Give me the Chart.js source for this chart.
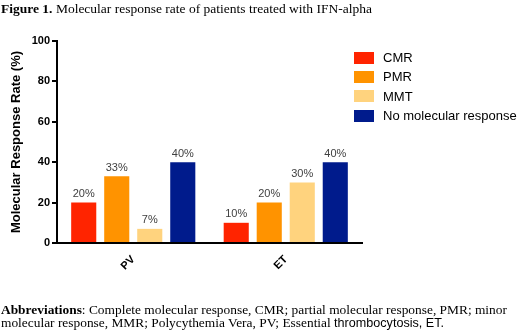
<!DOCTYPE html>
<html>
<head>
<meta charset="utf-8">
<script src="https://cdn.jsdelivr.net/npm/chart.js@4"></script>
<style>
  body { margin: 0; width: 520px; height: 334px; overflow: hidden; background: #fff; position: relative; }
  #grafico { position: absolute; left: 0; top: 0; }
  .titulo { position: absolute; left: 1px; top: 1px; font: 13.5px "Liberation Serif", "Times New Roman", serif; color: #000; white-space: nowrap; }
  .rodape { position: absolute; left: 1px; top: 303px; font: 13.4px "Liberation Serif", "Times New Roman", serif; line-height: 13px; color: #000; white-space: nowrap; }
  .sans { font-family: "Liberation Sans", Arial, sans-serif; font-size: 12.6px; }
  #legenda { position: absolute; left: 354px; top: 48px; font: 13px "Liberation Sans", Arial, sans-serif; color: #000; }
  #legenda div { height: 19.3px; display: flex; align-items: center; white-space: nowrap; }
  #legenda span.caixa { display: inline-block; width: 20px; height: 12px; margin-right: 9px; }
</style>
</head>
<body>
<canvas id="grafico" width="520" height="334"></canvas>
<div class="titulo"><b>Figure 1.</b> Molecular response rate of patients treated with IFN-alpha</div>
<div id="legenda"></div>
<div class="rodape"><b>Abbreviations</b>: Complete molecular response, CMR; partial molecular response, PMR; minor<br>molecular response, MMR; Polycythemia Vera, PV; Essential <span class="sans">thrombocytosis, ET.</span></div>
<script>
// categorias e séries
const categorias = ['PV', 'ET']
const series = ['CMR', 'PMR', 'MMT', 'No molecular response']
const valoresCMR = [20, 10]
const valoresPMR = [33, 20]
const valoresMMT = [7, 30]
const valoresNMR = [40, 40]
const ticksY = [0, 20, 40, 60, 80, 100]
const cores = ['#ff2400', '#ff9300', '#ffd37e', '#001b8c']

const prepararDados = () => {
    const valores = [valoresCMR, valoresPMR, valoresMMT, valoresNMR]
    const datasets = series.map((nome, i) => ({
        label: nome,
        data: valores[i],
        backgroundColor: cores[i],
        borderWidth: 0,
        categoryPercentage: 0.866,
        barPercentage: 0.76
    }))
    return { labels: categorias, datasets }
}

// rótulos de porcentagem em cima das barras
const rotulosPlugin = {
    id: 'rotulos',
    afterDatasetsDraw(chart) {
        const ctx = chart.ctx
        ctx.save()
        ctx.font = '11px "Liberation Sans", Arial, sans-serif'
        ctx.fillStyle = '#404040'
        ctx.textAlign = 'center'
        ctx.textBaseline = 'bottom'
        chart.data.datasets.forEach((ds, i) => {
            chart.getDatasetMeta(i).data.forEach((bar, j) => {
                ctx.fillText(ds.data[j] + '%', bar.x, bar.y - 3)
            })
        })
        ctx.restore()
    }
}

const ctx = document.querySelector('#grafico')
const chart = new Chart(ctx, {
    type: 'bar',
    data: prepararDados(),
    plugins: [rotulosPlugin],
    options: {
        responsive: false,
        animation: false,
        layout: { padding: { top: 41, right: 158, left: 0, bottom: 0 } },
        plugins: { legend: { display: false }, tooltip: { enabled: false } },
        scales: {
            x: {
                grid: { display: false },
                border: { color: '#000', width: 2 },
                ticks: {
                    color: '#000',
                    font: { family: '"Liberation Sans", Arial, sans-serif', size: 11, weight: 'bold' },
                    minRotation: 45, maxRotation: 45, padding: 2
                },
                afterFit: (s) => { s.height = 91 }
            },
            y: {
                min: 0, max: 100,
                afterBuildTicks: (s) => { s.ticks = ticksY.map(v => ({ value: v })) },
                grid: { drawOnChartArea: false, color: '#000', lineWidth: 2, tickLength: 5 },
                border: { color: '#000', width: 2 },
                ticks: {
                    color: '#000',
                    padding: 2,
                    font: { family: '"Liberation Sans", Arial, sans-serif', size: 11, weight: 'bold' }
                },
                title: {
                    display: true,
                    text: 'Molecular Response Rate (%)',
                    color: '#000',
                    padding: { top: 9, bottom: 0 },
                    font: { family: '"Liberation Sans", Arial, sans-serif', size: 13, weight: 'bold' }
                },
                afterFit: (s) => { s.width = 57 }
            }
        }
    }
})

// legenda em HTML
const legenda = document.querySelector('#legenda')
series.forEach((nome, i) => {
    const linha = document.createElement('div')
    linha.innerHTML = '<span class="caixa" style="background:' + cores[i] + '"></span>' + nome
    legenda.appendChild(linha)
})
</script>
</body>
</html>
